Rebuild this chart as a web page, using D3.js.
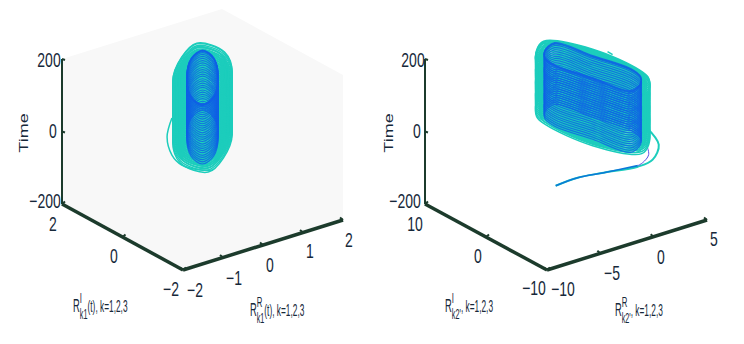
<!DOCTYPE html>
<html>
<head>
<meta charset="utf-8">
<script src="https://cdn.jsdelivr.net/npm/d3@7"></script>
<style>
html,body{margin:0;padding:0;background:#fff;}
svg{display:block;}
text{font-family:"Liberation Sans",sans-serif;fill:#16283a;}
</style>
</head>
<body>
<svg id="chart" width="744" height="344"></svg>
<script>
// ---- values ----
const timeTicks = [-200,0,200];

// left panel (R_k1)
const leftReTicks = [-2,-1,0,1,2];
const leftImTicks = [-2,0,2];
const leftOuterRing = [[.9,1.38],[1.08,.7],[.59,-.2],[-.25,-1.02],[-.9,-1.38],[-1.08,-.7],[-.59,.2],[.25,1.02]];
const leftMiddleRing = [[.8,1.23],[.96,.62],[.52,-.18],[-.22,-.91],[-.8,-1.23],[-.96,-.62],[-.52,.18],[.22,.91]];
const leftThirdRing = [[.7,1.08],[.84,.55],[.46,-.16],[-.19,-.8],[-.7,-1.08],[-.84,-.55],[-.46,.16],[.19,.8]];
const leftInnerRing = [[.79,1.04],[.74,.6],[.25,-.19],[-.38,-.87],[-.79,-1.04],[-.74,-.6],[-.25,.19],[.38,.87]];
const leftTimes = [4,10,16,22,28,35,41,47,53,59,66,72,78,84,90,97,103,109,115,121,128,134,140,146,152,159,165,170,172];
const leftBlueTimes = [7,13,19,25,31,38,44,50,56,62,69,75,81,87,93,100,106,112,118,124,131,137,143,149,155,160,165,168,170,171,172];
const leftTail = [[-.28,.64,40],[-.81,.1,30],[-1.15,-.51,20],[-1.2,-.9,12],[-.99,-1.23,6],[-.77,-1.36,4]];

// right panel (R_k2)
const rightReTicks = [-10,-5,0,5];
const rightImTicks = [-10,0,10];
const rightOuterRing = [[2.45,-4.9],[1.13,-7.21],[-.27,-8.52],[-2.31,-4.04],[-2.8,2.82],[-2.45,4.9],[-1.13,7.21],[.27,8.52],[2.31,4.04],[2.8,-2.82]];
const rightMiddleRing = [[2.28,-4.56],[1.05,-6.71],[-.25,-7.92],[-2.15,-3.76],[-2.6,2.62],[-2.28,4.56],[-1.05,6.71],[.25,7.92],[2.15,3.76],[2.6,-2.62]];
const rightThirdRing = [[2.11,-4.21],[.97,-6.2],[-.23,-7.33],[-1.99,-3.47],[-2.41,2.43],[-2.11,4.21],[-.97,6.2],[.23,7.33],[1.99,3.47],[2.41,-2.43]];
const rightInnerRing = [[1.1,-5.96],[-.38,-6.9],[-1.21,-2.12],[-2.04,2.66],[-1.76,4.8],[-1.1,5.96],[.38,6.9],[1.21,2.12],[2.04,-2.66],[1.76,-4.8]];
const rightTimes = [18,24,30,36,42,48,54,60,66,72,78,84,90,96,102,108,114,120,126,132,138,144,150,156,161,164,166,168];
const rightBlueTimes = [8,14,20,26,32,38,44,50,56,62,68,74,80,86,92,98,104,110,116,122,128,134,140,146,152,158,164,170,174,176,178];
const rightTealTail = [[2.4,-4.66,30],[1.65,-7.95,20],[.04,-9.77,10],[-1.22,-9.53,0],[-3.11,-7.25,-20],[-4.41,-5.25,-40],[-5.8,-4.08,-60]];
const rightPurpleTail = [[.69,-7.49,30],[-.05,-9.27,20],[-.88,-9.75,10],[-1.11,-9.33,0]];
const rightBlueTail = [[-1.11,-9.33,0],[-3.11,-7.25,-20],[-4.41,-5.25,-40],[-5.8,-4.08,-60]];
const rightLip = [[2.93,2.68,168],[2.9,1.8,168]];

const teal = "#1ccdbc", blue = "#0f5fe6", axisColour = "#1c3b2c";
const svg = d3.select("#chart");

function addText(parent,x,y,str,size,sx){
    return parent.append("text")
        .attr("transform","translate("+x+","+y+") scale("+sx+",1)")
        .attr("font-size",size)
        .text(str);
}

function drawPanel(cfg){
    const g = svg.append("g");
    // oblique projection, one pair of scales per data axis
    const reX = d3.scaleLinear().domain(cfg.reDomain).range([cfg.corner[0],cfg.reEnd[0]]);
    const reY = d3.scaleLinear().domain(cfg.reDomain).range([cfg.corner[1],cfg.reEnd[1]]);
    const imX = d3.scaleLinear().domain(cfg.imDomain).range([cfg.corner[0],cfg.imEnd[0]]);
    const imY = d3.scaleLinear().domain(cfg.imDomain).range([cfg.corner[1],cfg.imEnd[1]]);
    const tY = d3.scaleLinear().domain([-200,200]).range([0,-145]);

    const px = (re,im)=> reX(re)+imX(im)-cfg.corner[0];
    const py = (re,im,t)=> reY(re)+imY(im)-cfg.corner[1]+tY(t);

    const reMin=cfg.reDomain[0], reMax=cfg.reDomain[1], imMin=cfg.imDomain[0], imMax=cfg.imDomain[1];

    if(cfg.wall){
        const box = [[reMin,imMax,200],[reMax,imMax,200],[reMax,imMin,200],[reMax,imMin,-200],[reMin,imMin,-200],[reMin,imMax,-200]];
        g.append("polygon")
            .attr("points",box.map(d=>px(d[0],d[1])+","+py(d[0],d[1],d[2])).join(" "))
            .attr("fill",cfg.wall);
    }

    const ringLine = (t)=> d3.line()
        .curve(d3.curveCatmullRomClosed.alpha(0.5))
        .x(d=>px(d[0],d[1]))
        .y(d=>py(d[0],d[1],t));
    const tailLine = d3.line()
        .curve(d3.curveCatmullRom.alpha(0.5))
        .x(d=>px(d[0],d[1]))
        .y(d=>py(d[0],d[1],d[2]));

    // tails under the coils
    cfg.tails.forEach(function(s){
        g.append("path").attr("d",tailLine(s.data)).attr("fill","none")
            .attr("stroke",s.colour).attr("stroke-width",s.width);
    });

    cfg.coils.forEach(function(c){
        g.append("g").selectAll("path")
            .data(c.times)
            .enter()
            .append("path")
            .attr("d",t=>ringLine(t)(c.ring))
            .attr("fill","none")
            .attr("stroke",c.colour)
            .attr("stroke-width",c.width)
            .attr("stroke-opacity",c.opacity);
    });

    // axes
    const axes = [
        [[reMin,imMin,-200],[reMax,imMin,-200],cfg.axisWidth],
        [[reMin,imMin,-200],[reMin,imMax,-200],cfg.axisWidth],
        [[reMin,imMax,-200],[reMin,imMax,200],2]
    ];
    axes.forEach(function(a){
        g.append("line")
            .attr("x1",px(a[0][0],a[0][1])).attr("y1",py(a[0][0],a[0][1],a[0][2]))
            .attr("x2",px(a[1][0],a[1][1])).attr("y2",py(a[1][0],a[1][1],a[1][2]))
            .attr("stroke",axisColour).attr("stroke-width",a[2]);
    });

    // tick marks
    const tick = (x,y,dx,dy)=> g.append("line")
        .attr("x1",x).attr("y1",y).attr("x2",x+dx).attr("y2",y+dy)
        .attr("stroke",axisColour).attr("stroke-width",2);
    cfg.reTicks.forEach(d=> tick(px(d,imMin),py(d,imMin,-200),-3,-2.5));
    cfg.imTicks.forEach(d=> tick(px(reMin,d),py(reMin,d,-200),3,-2.5));
    timeTicks.forEach(d=> tick(px(reMin,imMax),py(reMin,imMax,d),3,1));

    // tick labels
    cfg.labels.forEach(l=> addText(g,l[0],l[1],l[2],20,0.7).attr("text-anchor","middle"));

    // axis titles
    addText(g,0,0,"Time",12,1.5)
        .attr("text-anchor","middle")
        .attr("transform","translate("+cfg.timePos[0]+","+cfg.timePos[1]+") rotate(-90) scale(1.5,1)");
    cfg.titles.forEach(function(m){
        const label = g.append("text")
            .attr("transform","translate("+m.x+","+m.y+") scale(0.52,1)")
            .attr("font-size",16);
        label.append("tspan").attr("font-size",18).text("R");
        label.append("tspan").attr("dx",0).attr("dy",-9).attr("font-size",15).text(m.sup);
        label.append("tspan").attr("dx",-m.supWidth).attr("dy",16).attr("font-size",14).text(m.sub);
        label.append("tspan").attr("dx",0).attr("dy",-7).text(m.rest);
    });
}

drawPanel({
    reDomain:[-2,2], imDomain:[-2,2],
    corner:[183,270], reEnd:[343,220], imEnd:[62,204],
    wall:"#f8f8f8", axisWidth:3.5,
    reTicks:leftReTicks, imTicks:leftImTicks,
    tails:[{data:leftTail,colour:teal,width:1.5}],
    coils:[
        {ring:leftOuterRing,times:leftTimes,colour:teal,width:1.5,opacity:1},
        {ring:leftMiddleRing,times:leftTimes,colour:teal,width:1.5,opacity:1},
        {ring:leftThirdRing,times:leftTimes,colour:teal,width:1.5,opacity:1},
        {ring:leftInnerRing,times:leftBlueTimes,colour:blue,width:1.2,opacity:0.8}
    ],
    labels:[[49,67,"200"],[53,138,"0"],[45,208,"\u2212200"],
        [53,231,"2"],[114,263,"0"],[171,296,"\u22122"],
        [195,297,"\u22122"],[234,285,"\u22121"],[270,272,"0"],[310,258,"1"],[349,247,"2"]],
    timePos:[28,133],
    titles:[
        {x:73,y:312,sup:"I",supWidth:4,sub:"k1",rest:"(t), k=1,2,3"},
        {x:250,y:316,sup:"R",supWidth:11,sub:"k1",rest:"(t), k=1,2,3"}
    ]
});

drawPanel({
    reDomain:[-10,5], imDomain:[-10,10],
    corner:[547,270], reEnd:[707,220], imEnd:[425,204],
    wall:null, axisWidth:3.5,
    reTicks:rightReTicks, imTicks:rightImTicks,
    tails:[
        {data:rightTealTail,colour:teal,width:2},
        {data:rightPurpleTail,colour:"#5a4fe6",width:1},
        {data:rightBlueTail,colour:"#0b78d8",width:1.6},
        {data:rightLip,colour:teal,width:1.5}
    ],
    coils:[
        {ring:rightOuterRing,times:rightTimes,colour:teal,width:1.5,opacity:1},
        {ring:rightMiddleRing,times:rightTimes,colour:teal,width:1.5,opacity:1},
        {ring:rightThirdRing,times:rightTimes,colour:teal,width:1.5,opacity:1},
        {ring:rightInnerRing,times:rightBlueTimes,colour:blue,width:1.2,opacity:0.8}
    ],
    labels:[[413,67,"200"],[417,138,"0"],[405,208,"\u2212200"],
        [415,231,"10"],[478,263,"0"],[534,295,"\u221210"],
        [563,296,"\u221210"],[612,280,"\u22125"],[661,264,"0"],[714,246,"5"]],
    timePos:[393,133],
    titles:[
        {x:445,y:312,sup:"I",supWidth:4,sub:"k2'",rest:", k=1,2,3"},
        {x:615,y:316,sup:"R",supWidth:11,sub:"k2'",rest:", k=1,2,3"}
    ]
});
</script>
</body>
</html>
